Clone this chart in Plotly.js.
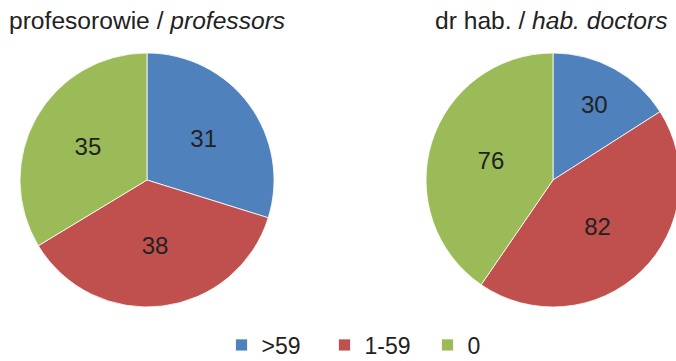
<!DOCTYPE html>
<html>
<head>
<meta charset="utf-8">
<script src="https://cdn.plot.ly/plotly-3.0.1.min.js"></script>
<style>
html, body { margin: 0; padding: 0; overflow: hidden; background: #fff; }
#chart { width: 680px; height: 380px; }
</style>
</head>
<body>
<div id="chart"></div>
<script>
const categories = ['>59', '1-59', '0'];
const professorsValues = [31, 38, 35];
const habDoctorsValues = [30, 82, 76];
const sliceColors = ['#4F81BD', '#C0504D', '#9BBB59'];
const leftTitle = 'profesorowie / <i>professors</i>';
const rightTitle = 'dr hab. / <i>hab. doctors</i>';

// Drawing surface is slightly larger than the 676x361 window so the right
// pie is clipped at the window edge as in the reference.
const W = 680, H = 380;
const FONT = '"Liberation Sans", Arial, Helvetica, sans-serif';

// helper: pixel distance from top -> paper y
const py = (top) => (H - top) / H;

function pieTrace(values, dom, showLegend) {
  return {
    type: 'pie',
    labels: categories,
    values: values,
    sort: false,
    direction: 'clockwise',
    rotation: 0,
    hole: 0,
    textinfo: 'value',
    textposition: 'inside',
    insidetextorientation: 'horizontal',
    textfont: { family: FONT, size: 24, color: '#222' },
    marker: { colors: sliceColors, line: { color: '#ffffff', width: 0.8 } },
    domain: dom,
    showlegend: showLegend,
    hoverinfo: 'none'
  };
}

const yDom = [py(307), py(53)];
const data = [
  pieTrace(professorsValues, { x: [20 / W, 274 / W], y: yDom }, true),
  pieTrace(habDoctorsValues, { x: [426 / W, 1], y: yDom }, false)
];

const layout = {
  width: W,
  height: H,
  margin: { l: 0, r: 0, t: 0, b: 0, autoexpand: false },
  paper_bgcolor: '#ffffff',
  plot_bgcolor: '#ffffff',
  font: { family: FONT, color: '#222' },
  showlegend: true,
  legend: {
    orientation: 'h',
    x: 376 / W,
    xanchor: 'center',
    y: py(345),
    yanchor: 'middle',
    font: { family: FONT, size: 23, color: '#222' },
    entrywidth: 58,
    traceorder: 'normal',
    bgcolor: 'rgba(0,0,0,0)'
  },
  annotations: [
    {
      text: leftTitle, xref: 'paper', yref: 'paper',
      x: 7 / W, y: py(21), xanchor: 'left', yanchor: 'middle',
      showarrow: false, font: { family: FONT, size: 24.6, color: '#222' }
    },
    {
      text: rightTitle, xref: 'paper', yref: 'paper',
      x: 433 / W, y: py(21), xanchor: 'left', yanchor: 'middle',
      showarrow: false, font: { family: FONT, size: 24.6, color: '#222' }
    }
  ]
};

Plotly.newPlot('chart', data, layout, { staticPlot: true, displayModeBar: false });
</script>
</body>
</html>
